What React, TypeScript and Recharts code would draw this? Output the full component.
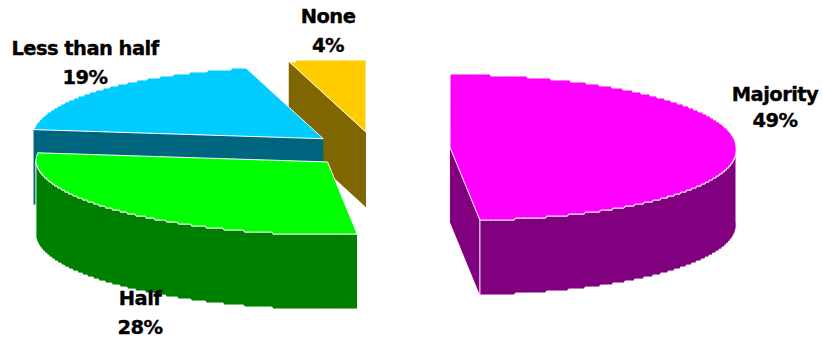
// Exploded 3D pie drawn with a custom Recharts sector shape.
import { Pie, PieChart } from 'recharts';

// Drawn back to front, so the nearer wedges cover the walls of the ones behind.
const categories = ['None', 'Less than half', 'Half', 'Majority'];
const shares = [4, 19, 28, 49];

const topColors = ['#FFCC00', '#00CCFF', '#00FF00', '#FF00FF'];
const wallColors = ['#806600', '#006680', '#008000', '#800080'];

// how far each wedge is pulled from the middle of the pie, and nudged down
const explodeBy = [60, 67, 63, 76.5];
const lowerBy = [1, 3, 0, -1];
const labelAt = [
  { x: 328, y: 23, gap: 29 },
  { x: 85, y: 55, gap: 29 },
  { x: 140, y: 305, gap: 29 },
  { x: 775, y: 101, gap: 26 },
];

const WIDTH = 823;
const HEIGHT = 340;
const RADIUS = 286;
const TILT = 73 / 286;
const EXPLODE_TILT = 0.3;
const DEPTH = 75;
const LEFT_STRETCH = 1.02;
const BACK_STRETCH = 0.07;
const FRONT_SKEW = 12 / 73;
const STAIR = 2;

const tableData = categories.map((name, i) => ({
  name,
  value: shares[i],
  fill: topColors[i],
  wall: wallColors[i],
  explode: explodeBy[i],
  lower: lowerBy[i],
  label: labelAt[i],
}));

const rad = (deg: number) => (deg * Math.PI) / 180;

function project(cx: number, cy: number, r: number, deg: number) {
  const sin = Math.sin(rad(deg));
  const dx = r * Math.cos(rad(deg));
  const dy = -r * TILT * sin;
  const stretch = LEFT_STRETCH + BACK_STRETCH * Math.max(0, sin) ** 2;
  return {
    x: cx + (dx < 0 ? dx * stretch : dx) + (dy > 0 ? dy * FRONT_SKEW : 0),
    y: cy + dy,
  };
}

// rim of the disc, with the stepped look of a low resolution render
function rim(cx: number, cy: number, r: number, from: number, to: number, drop = 0) {
  const pts: string[] = [];
  const n = Math.max(2, Math.ceil(Math.abs(to - from) * 4));
  for (let i = 0; i <= n; i++) {
    const p = project(cx, cy, r, from + ((to - from) * i) / n);
    const y = i === 0 || i === n ? p.y : Math.round(p.y / STAIR) * STAIR;
    pts.push(`${p.x.toFixed(1)} ${(y + drop).toFixed(1)}`);
  }
  return pts;
}

const toPath = (pts: string[]) => `M${pts.join('L')}Z`;

function Wedge3D(props: any) {
  const { cx, cy, outerRadius, startAngle, endAngle, fill, payload } = props;
  const from = Math.min(startAngle, endAngle);
  const to = Math.max(startAngle, endAngle);
  const mid = (from + to) / 2;
  const d = payload.explode;
  const ox = cx + d * Math.cos(rad(mid));
  const oy = cy - d * EXPLODE_TILT * Math.sin(rad(mid)) + payload.lower;
  const wall = payload.wall;

  const apex = `${ox} ${oy}`;
  const apexLow = `${ox} ${oy + DEPTH}`;

  const cutFace = (deg: number) => {
    const p = project(ox, oy, outerRadius, deg);
    return toPath([apex, `${p.x} ${p.y}`, `${p.x} ${p.y + DEPTH}`, apexLow]);
  };

  // only the part of the rim facing the viewer gets an outer wall
  const frontFrom = Math.max(from, 180);
  const frontTo = Math.min(to, 360);

  return (
    <g strokeLinejoin="round">
      <path d={cutFace(from)} fill={wall} />
      <path d={cutFace(to)} fill={wall} />
      {frontTo > frontFrom && (
        <path
          d={toPath([
            ...rim(ox, oy, outerRadius, frontFrom, frontTo),
            ...rim(ox, oy, outerRadius, frontTo, frontFrom, DEPTH),
          ])}
          fill={wall}
          stroke="#fff"
          strokeWidth={1}
        />
      )}
      <path
        d={toPath([apex, ...rim(ox, oy, outerRadius, from, to)])}
        fill={fill}
        stroke="#fff"
        strokeWidth={1}
      />
    </g>
  );
}

const labelStyle = {
  fill: '#000',
  stroke: '#000',
  strokeWidth: 0.35,
  fontFamily: 'DejaVu Sans',
  fontWeight: 700,
  fontSize: 19.5,
  letterSpacing: -0.55,
};

function renderLabel(props: any) {
  const { name, value, payload } = props;
  const { x, y, gap } = payload.label;
  return (
    <g>
      <text x={x} y={y} textAnchor="middle" style={labelStyle}>
        {name}
      </text>
      <text x={x} y={y + gap} textAnchor="middle" style={labelStyle}>
        {value}%
      </text>
    </g>
  );
}

export default function App() {
  return (
    <div style={{ position: 'absolute', left: 0, top: 0, width: WIDTH, height: HEIGHT }}>
      <PieChart width={WIDTH} height={HEIGHT} margin={{ top: 0, right: 0, bottom: 0, left: 0 }}>
        <Pie
          data={tableData}
          dataKey="value"
          nameKey="name"
          cx={373.5}
          cy={149}
          innerRadius={0}
          outerRadius={RADIUS}
          startAngle={90}
          endAngle={450}
          stroke="none"
          shape={Wedge3D}
          label={renderLabel}
          labelLine={false}
          isAnimationActive={false}
        />
      </PieChart>
    </div>
  );
}
